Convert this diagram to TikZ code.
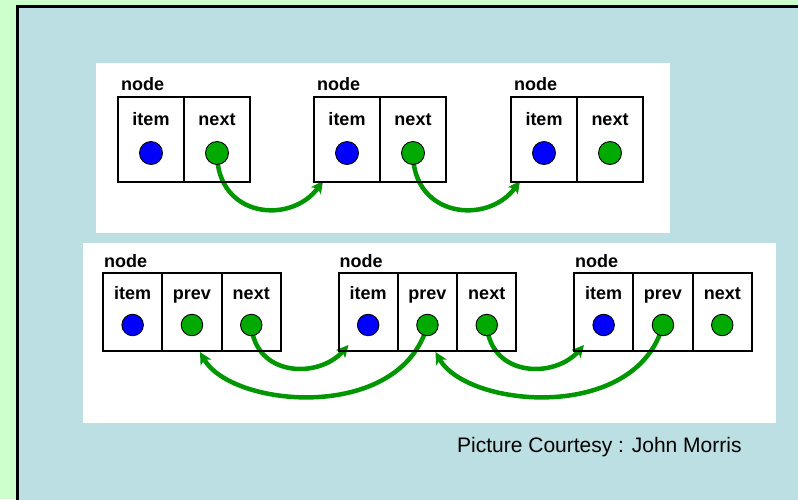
\documentclass[tikz,border=0pt]{standalone}
\usepackage{fontspec}
\setmainfont{Liberation Sans}
\usetikzlibrary{arrows.meta,calc}

\definecolor{pagegreen}{RGB}{204,255,204}
\definecolor{panelblue}{RGB}{187,223,226}
\definecolor{dotblue}{RGB}{0,0,255}
\definecolor{dotgreen}{RGB}{0,170,0}
\definecolor{linkgreen}{RGB}{0,150,0}

\pgfdeclarelayer{backdrop}
\pgfdeclarelayer{links}
\pgfsetlayers{backdrop,links,main}

\tikzset{
  cellA/.style={draw=black, line width=2pt, minimum width=66pt, minimum height=85pt,
                inner sep=0pt, outer sep=0pt, anchor=north west},
  cellB/.style={cellA, minimum width=59.3pt, minimum height=78pt},
  field/.style={font=\fontsize{18}{18}\selectfont\bfseries, inner sep=0pt, anchor=base},
  tag/.style={field, anchor=base west},
  dot/.style={circle, draw=black, line width=0.9pt, inner sep=0pt, minimum size=23pt},
  itemdot/.style={dot, fill=dotblue},
  linkdot/.style={dot, fill=dotgreen},
  smalldot/.style={minimum size=21.5pt},
  link/.style={draw=linkgreen, line width=4.5pt,
               -{Stealth[length=12pt,width=12pt,inset=3pt]}},
  credit/.style={font=\fontsize{21}{21}\selectfont, inner sep=0pt, anchor=base west},
}

\begin{document}
\begin{tikzpicture}[x=1pt,y=-1pt]
\useasboundingbox (0,0) rectangle (798,499);

% page, framed panel and the two white sheets
\begin{pgfonlayer}{backdrop}
  \fill[pagegreen] (0,0) rectangle (798,499);
  \fill[panelblue] (17.5,6.5) rectangle (800,501);
  \draw[line width=2.5pt] (17.5,501) -- (17.5,6.5) -- (800,6.5);
  \fill[white] (96,63) rectangle (670,233);
  \fill[white] (83,243) rectangle (776,423);
\end{pgfonlayer}

% singly linked list: item | next
\foreach \k/\x in {1/118,2/314,3/511}{
  \node[tag] (t\k-tag) at (\x+3,90) {node};
  \node[cellA] (t\k-item) at (\x,97) {};
  \node[cellA] (t\k-next) at (t\k-item.north east) {};
  \node[field] (t\k-itemtxt) at ($(t\k-item.north)+(0,28.5)$) {item};
  \node[field] (t\k-nexttxt) at ($(t\k-next.north)+(0,28.5)$) {next};
  \node[itemdot] (t\k-itemdot) at ($(t\k-item.north)+(0,56)$) {};
  \node[linkdot] (t\k-nextdot) at ($(t\k-next.north)+(0,56)$) {};
}

% doubly linked list: item | prev | next
\foreach \k/\x in {1/103,2/338.5,3/574}{
  \node[tag] (b\k-tag) at (\x+1,267) {node};
  \node[cellB] (b\k-item) at (\x,273) {};
  \node[cellB] (b\k-prev) at (b\k-item.north east) {};
  \node[cellB] (b\k-next) at (b\k-prev.north east) {};
  \node[field] (b\k-itemtxt) at ($(b\k-item.north)+(0,26)$) {item};
  \node[field] (b\k-prevtxt) at ($(b\k-prev.north)+(0,26)$) {prev};
  \node[field] (b\k-nexttxt) at ($(b\k-next.north)+(0,26)$) {next};
  \node[itemdot,smalldot] (b\k-itemdot) at ($(b\k-item.north)+(0,52)$) {};
  \node[linkdot,smalldot] (b\k-prevdot) at ($(b\k-prev.north)+(0,52)$) {};
  \node[linkdot,smalldot] (b\k-nextdot) at ($(b\k-next.north)+(0,52)$) {};
}

% pointers, drawn beneath the dots they leave from
\begin{pgfonlayer}{links}
  \draw[link] (t1-nextdot.center) .. controls +(0,65) and +(-32,44) .. ($(t2-item.south west)+(9,-1)$);
  \draw[link] (t2-nextdot.center) .. controls +(0,65) and +(-32,44) .. ($(t3-item.south west)+(9,-1)$);
  \draw[link] (b1-nextdot.center) .. controls +(4,52) and +(-30,34) .. ($(b2-item.south west)+(10,-6)$);
  \draw[link] (b2-nextdot.center) .. controls +(4,52) and +(-30,34) .. ($(b3-item.south west)+(10,-6)$);
  \draw[link] (b2-prevdot.center) .. controls +(-27,98) and +(32,56) .. ($(b1-prev.south)+(8,1)$);
  \draw[link] (b3-prevdot.center) .. controls +(-27,98) and +(32,56) .. ($(b2-prev.south)+(8,1)$);
\end{pgfonlayer}

\node[credit] (courtesy) at (457,452) {Picture Courtesy : John Morris};
\end{tikzpicture}
\end{document}
